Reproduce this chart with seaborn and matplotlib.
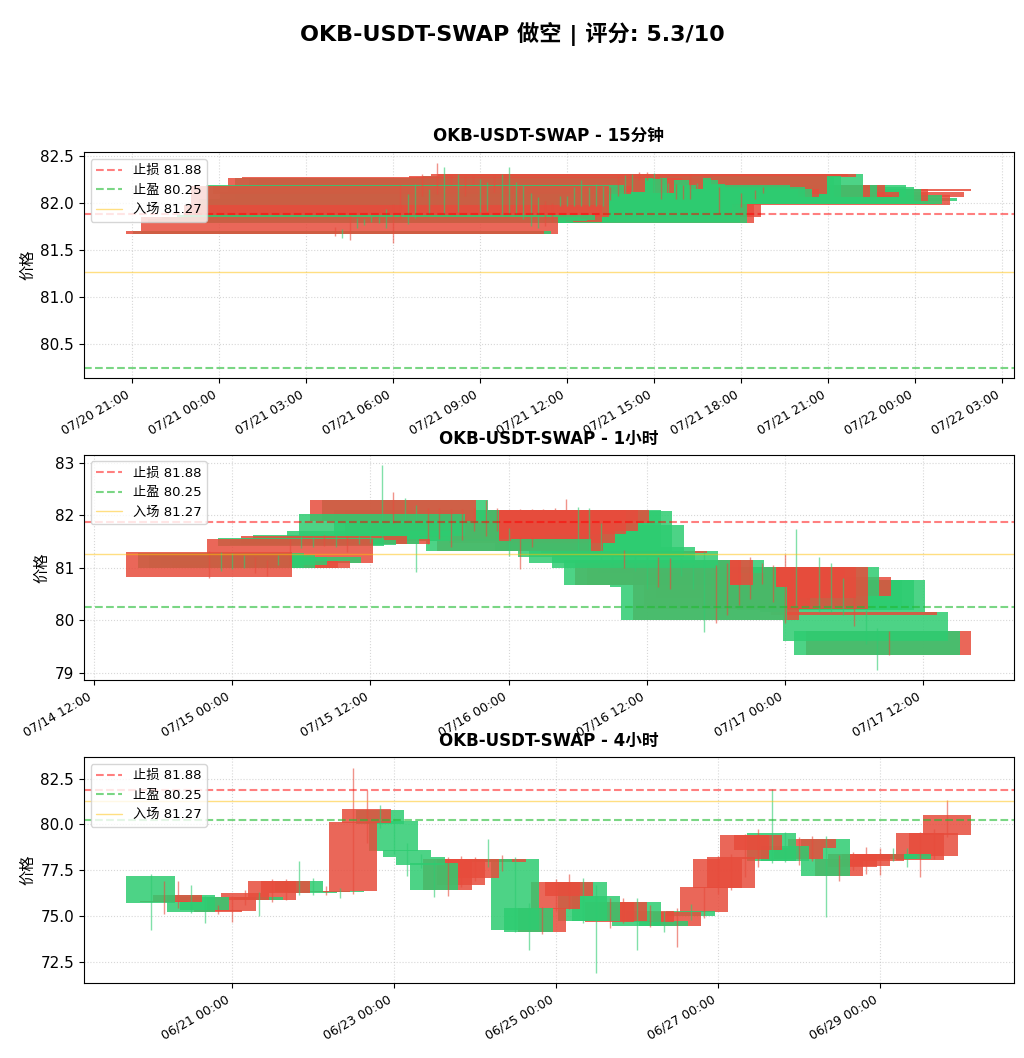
import matplotlib
matplotlib.use("Agg")
import matplotlib.pyplot as plt
import matplotlib.dates as mdates
from matplotlib.ticker import MultipleLocator
import numpy as np
import pandas as pd
import seaborn as sns

symbol = "OKB-USDT-SWAP"
direction = "做空"
score = 5.3
stop_loss = 81.88
take_profit = 80.25
entry = 81.27

# 15 minute candles, 60 bars from 07/21 04:00
o_15m = [81.70, 81.67, 81.85, 81.79, 81.79, 81.83, 81.81, 81.82, 81.98, 82.18,
         81.80, 81.85, 82.18, 81.90, 82.27, 81.90, 82.28, 81.95, 82.27, 82.27,
         81.95, 81.95, 82.27, 81.90, 81.90, 81.90, 81.85, 81.80, 81.79, 81.99,
         81.99, 81.99, 81.99, 81.99, 81.99, 81.99, 81.99, 81.99, 82.15, 82.29,
         81.99, 81.99, 82.31, 82.31, 82.00, 82.19, 82.06, 82.19, 82.09, 82.12,
         82.06, 82.00, 81.99, 82.15, 81.99, 81.99, 82.09, 82.02, 82.12, 82.15]
h_15m = [81.75, 81.72, 81.86, 81.84, 81.83, 81.86, 81.85, 81.94, 81.99, 82.19,
         82.10, 82.20, 82.31, 82.15, 82.43, 82.38, 82.30, 82.31, 82.29, 82.30,
         82.26, 82.22, 82.30, 82.31, 82.38, 82.22, 82.19, 82.11, 82.06, 82.02,
         82.00, 82.07, 82.07, 82.17, 82.24, 82.17, 82.20, 82.18, 82.17, 82.30,
         82.30, 82.31, 82.33, 82.33, 82.32, 82.27, 82.21, 82.20, 82.19, 82.31,
         82.21, 82.19, 82.17, 82.17, 82.03, 82.11, 82.11, 82.08, 82.14, 82.17]
l_15m = [81.65, 81.63, 81.61, 81.73, 81.77, 81.80, 81.79, 81.73, 81.58, 81.83,
         81.78, 81.84, 82.08, 81.88, 82.10, 81.88, 82.20, 81.90, 82.08, 82.20,
         81.90, 81.92, 82.12, 81.88, 81.88, 81.88, 81.83, 81.76, 81.73, 81.76,
         81.80, 81.97, 81.97, 81.97, 81.97, 81.97, 81.97, 81.97, 82.03, 82.08,
         81.97, 81.97, 82.25, 82.25, 81.98, 82.04, 82.04, 82.04, 82.04, 82.04,
         82.04, 81.98, 81.97, 81.89, 81.97, 81.97, 81.96, 82.00, 82.04, 82.11]
c_15m = [81.67, 81.70, 81.67, 81.83, 81.81, 81.85, 81.83, 81.87, 81.80, 81.85,
         82.04, 82.19, 82.10, 82.12, 82.12, 82.27, 82.26, 82.27, 82.11, 82.24,
         82.24, 82.19, 82.15, 82.27, 82.24, 82.20, 82.17, 82.09, 82.04, 81.79,
         81.85, 82.05, 82.05, 82.15, 82.19, 82.15, 82.17, 82.15, 82.06, 82.10,
         82.28, 82.29, 82.29, 82.28, 82.31, 82.06, 82.19, 82.06, 82.06, 82.06,
         82.19, 82.17, 82.15, 82.02, 82.00, 82.09, 81.98, 82.05, 82.06, 82.13]

# 1 hour candles, 60 bars from 07/14 22:00
o_1h = [81.30, 80.99, 81.00, 81.05, 81.13, 81.13, 81.10, 81.55, 81.42, 81.44,
        81.60, 81.46, 81.55, 81.51, 81.51, 81.60, 82.30, 81.90, 81.51, 82.11,
        82.11, 82.11, 82.11, 82.11, 82.11, 82.11, 81.32, 82.11, 82.11, 82.11,
        82.11, 82.11, 81.32, 81.32, 81.20, 81.10, 81.32, 80.99, 80.68, 81.15,
        81.15, 80.90, 80.63, 80.00, 81.02, 81.02, 81.02, 81.02, 81.02, 81.02,
        81.02, 80.30, 80.83, 80.20, 80.20, 80.15, 80.15, 79.61, 79.34, 79.79]
h_1h = [81.32, 81.30, 81.28, 81.25, 81.20, 81.15, 81.24, 81.56, 81.60, 81.58,
        81.62, 81.66, 81.60, 81.60, 81.75, 82.96, 82.45, 82.33, 82.20, 82.15,
        82.15, 82.13, 82.13, 82.15, 82.30, 82.15, 81.76, 82.12, 82.12, 82.13,
        82.15, 82.32, 82.17, 82.14, 81.85, 81.45, 81.35, 81.35, 81.20, 81.20,
        81.18, 81.18, 81.05, 81.32, 81.05, 81.10, 81.15, 81.20, 81.10, 81.05,
        81.26, 81.75, 80.90, 81.20, 81.10, 80.80, 80.45, 80.20, 79.85, 79.80]
l_1h = [80.80, 80.95, 80.97, 81.00, 80.90, 80.85, 81.05, 81.05, 81.38, 81.40,
        81.42, 81.40, 81.30, 81.45, 81.48, 81.55, 81.85, 81.85, 80.92, 81.45,
        81.55, 81.40, 81.53, 81.70, 81.60, 81.70, 81.22, 80.98, 81.40, 81.60,
        81.65, 81.80, 81.30, 81.30, 81.15, 81.05, 80.99, 80.95, 80.60, 80.63,
        80.60, 80.85, 80.60, 79.77, 79.94, 80.10, 80.30, 80.40, 80.70, 80.35,
        79.94, 80.28, 80.40, 80.15, 80.15, 80.10, 79.90, 79.55, 79.05, 79.33]
c_1h = [80.83, 81.28, 81.25, 81.20, 81.00, 80.99, 81.21, 81.10, 81.57, 81.53,
        81.46, 81.62, 81.46, 81.56, 81.70, 82.03, 81.90, 82.30, 82.11, 81.51,
        81.59, 81.68, 81.59, 81.78, 81.67, 81.78, 81.55, 81.32, 81.48, 81.64,
        81.70, 81.86, 82.11, 82.08, 81.81, 81.40, 81.28, 81.32, 81.15, 80.68,
        80.68, 81.15, 81.02, 80.64, 80.00, 80.21, 80.43, 80.53, 80.76, 80.43,
        80.21, 81.02, 80.47, 80.76, 80.76, 80.76, 80.11, 80.15, 79.79, 79.34]

# 4 hour candles, 60 bars from 06/20 00:00
o_4h = [75.73, 75.85, 76.15, 75.20, 75.35, 75.35, 76.06, 76.28, 75.86, 76.94,
        76.94, 76.29, 76.28, 76.35, 76.30, 80.13, 80.82, 80.05, 78.54, 78.21,
        77.81, 76.44, 78.09, 78.09, 78.09, 77.95, 78.14, 74.22, 74.11, 75.46,
        76.88, 76.88, 74.71, 74.71, 75.79, 75.79, 74.44, 75.26, 74.44, 75.22,
        74.99, 76.57, 78.09, 78.20, 79.45, 79.45, 77.99, 77.99, 78.72, 79.18,
        77.17, 78.09, 78.41, 78.41, 78.41, 78.09, 78.09, 79.51, 79.51, 80.49]
h_4h = [77.30, 76.90, 76.90, 76.70, 76.10, 75.60, 76.10, 76.40, 76.30, 77.00,
        77.00, 78.00, 77.07, 76.67, 76.54, 83.10, 81.90, 81.04, 80.30, 79.00,
        78.40, 78.05, 78.20, 78.30, 78.20, 79.23, 78.36, 78.23, 75.70, 75.50,
        77.00, 77.30, 77.10, 76.70, 76.00, 75.99, 75.99, 75.62, 75.26, 75.44,
        75.68, 76.60, 78.30, 78.41, 79.50, 79.73, 81.91, 79.58, 79.30, 79.36,
        79.36, 78.36, 78.49, 78.76, 78.72, 78.69, 78.69, 79.60, 79.73, 81.33]
l_4h = [74.25, 75.10, 75.45, 75.15, 74.65, 75.10, 74.70, 75.60, 75.00, 75.75,
        75.90, 76.13, 76.13, 76.13, 75.99, 76.20, 79.00, 79.80, 78.40, 77.17,
        77.60, 76.04, 76.12, 76.60, 76.93, 77.68, 77.45, 74.16, 73.13, 74.02,
        75.30, 75.38, 74.60, 71.92, 74.38, 74.60, 73.16, 74.40, 74.16, 73.34,
        74.81, 74.90, 76.20, 76.44, 77.14, 77.68, 77.90, 77.95, 77.81, 78.00,
        74.95, 76.94, 77.50, 77.32, 77.26, 78.00, 77.68, 77.12, 78.09, 79.33]
c_4h = [77.17, 75.75, 75.78, 76.17, 76.04, 75.20, 75.26, 75.90, 76.04, 75.86,
        76.26, 76.94, 76.33, 76.30, 76.35, 76.35, 80.09, 80.77, 80.18, 78.63,
        78.23, 77.87, 76.44, 76.72, 77.06, 78.10, 77.94, 78.14, 75.44, 74.11,
        75.39, 76.08, 76.88, 76.12, 74.66, 74.71, 75.79, 74.66, 74.71, 74.44,
        75.30, 75.20, 76.54, 76.54, 78.09, 78.63, 79.51, 78.81, 78.09, 78.72,
        79.18, 77.17, 77.68, 77.72, 77.99, 78.41, 78.41, 78.05, 78.30, 79.45]

panels = [
    ("15分钟", "2025-07-21 04:00", "15min", o_15m, h_15m, l_15m, c_15m,
     mdates.HourLocator(byhour=range(0, 24, 3)), 0.5),
    ("1小时", "2025-07-14 22:00", "1h", o_1h, h_1h, l_1h, c_1h,
     mdates.HourLocator(byhour=[0, 12]), 1.0),
    ("4小时", "2025-06-20 00:00", "4h", o_4h, h_4h, l_4h, c_4h,
     mdates.DayLocator(bymonthday=[21, 23, 25, 27, 29]), 2.5),
]

sns.set_style("ticks", {"axes.edgecolor": "black", "axes.linewidth": 1.0,
                        "text.color": "black", "axes.labelcolor": "black",
                        "xtick.color": "black", "ytick.color": "black"})
plt.rcParams["font.family"] = ["DejaVu Sans", "Noto Sans CJK SC"]
plt.rcParams["axes.unicode_minus"] = False

fig, axes = plt.subplots(3, 1, figsize=(10.24, 10.58), dpi=100)
fig.subplots_adjust(left=0.082, right=0.990, top=0.856, bottom=0.071, hspace=0.341)

for ax, (label, start, freq, o, h, l, c, locator, ystep) in zip(axes, panels):
    idx = pd.date_range(start, periods=len(o), freq=freq)
    df = pd.DataFrame({"open": o, "high": h, "low": l, "close": c}, index=idx)
    df = df.iloc[::-1]  # exchange feed comes newest first
    x = mdates.date2num(df.index.to_pydatetime())
    colors = np.where(df["close"] >= df["open"], "#2ecc71", "#e74c3c")

    ax.vlines(x, df["low"], df["high"], colors=colors, linewidth=1, alpha=0.6)
    ax.bar(x, (df["close"] - df["open"]).abs(),
           bottom=df[["open", "close"]].min(axis=1),
           width=0.6, color=colors, alpha=0.85, linewidth=0)

    ax.axhline(stop_loss, color="red", linestyle="--", linewidth=1.5, alpha=0.5,
               label=f"止损 {stop_loss}")
    ax.axhline(take_profit, color="#22bb33", linestyle="--", linewidth=1.5, alpha=0.6,
               label=f"止盈 {take_profit}")
    ax.axhline(entry, color="#ffc107", linestyle="-", linewidth=1, alpha=0.5,
               label=f"入场 {entry}")

    ax.set_title(f"{symbol} - {label}", fontsize=12, fontweight="bold", pad=8)
    ax.set_ylabel("价格", fontsize=11)
    ax.grid(True, linestyle=":", color="#b0b0b0", alpha=0.5)
    ax.legend(loc="upper left", fontsize=9.5)
    ax.yaxis.set_major_locator(MultipleLocator(ystep))
    ax.xaxis.set_major_locator(locator)
    ax.xaxis.set_major_formatter(mdates.DateFormatter("%m/%d %H:%M"))
    ax.tick_params(axis="y", labelsize=11)
    ax.tick_params(axis="x", labelsize=9)
    plt.setp(ax.get_xticklabels(), rotation=30, ha="right")

fig.suptitle(f"{symbol} {direction} | 评分: {score}/10", fontsize=16,
             fontweight="bold", y=0.979)
fig.savefig("out.png", dpi=100)
